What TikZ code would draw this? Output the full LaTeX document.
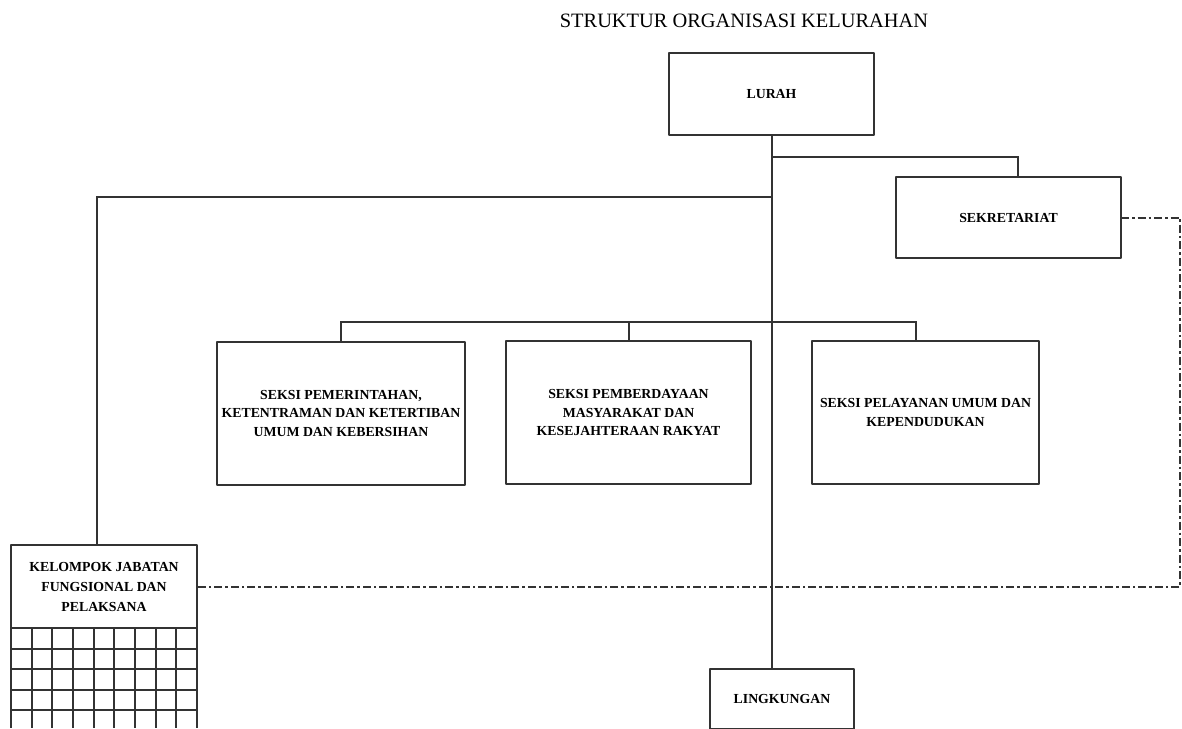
\documentclass[tikz,border=0pt]{standalone}
\usepackage{fontspec}
\setmainfont{Liberation Serif}
\usepackage{tikz}
\definecolor{linegray}{HTML}{333333}

\begin{document}
\begin{tikzpicture}[x=1pt, y=-1pt,
  every node/.style={outer sep=0pt, inner sep=2pt},
  unit/.style={draw=linegray, line width=2pt, line join=round, align=center,
    text=black, font=\bfseries\fontsize{13.8}{18.5}\selectfont},
  link/.style={draw=linegray, line width=2pt},
  dashlink/.style={draw=linegray, line width=2pt, dash pattern=on 8pt off 3pt on 2.5pt off 3pt}]
\useasboundingbox (0,0) rectangle (1182,728);

\node[font=\fontsize{20.4}{24}\selectfont] (title) at (744,21) {STRUKTUR ORGANISASI KELURAHAN};

\node[unit, minimum width=205pt, minimum height=82pt] (lurah) at (771.5,94) {LURAH};
\node[unit, minimum width=225pt, minimum height=81pt] (sekretariat) at (1008.5,217.5) {SEKRETARIAT};

\node[unit, minimum width=248pt, minimum height=143pt] (seksiA) at (341,413)
  {SEKSI PEMERINTAHAN,\\KETENTRAMAN DAN KETERTIBAN\\UMUM DAN KEBERSIHAN};
\node[unit, minimum width=245pt, minimum height=143pt] (seksiB) at (628.5,412.5)
  {SEKSI PEMBERDAYAAN\\MASYARAKAT DAN\\KESEJAHTERAAN RAKYAT};
\node[unit, minimum width=227pt, minimum height=143pt] (seksiC) at (925.5,412.5)
  {SEKSI PELAYANAN UMUM DAN\\KEPENDUDUKAN};

\node[unit, minimum width=186pt, minimum height=83pt, font=\bfseries\fontsize{13.8}{20}\selectfont] (kelompok) at (104,586.5)
  {KELOMPOK JABATAN\\FUNGSIONAL DAN\\PELAKSANA};
\node[unit, minimum width=144pt, minimum height=60pt] (lingkungan) at (782,699) {LINGKUNGAN};

% grid under kelompok
\foreach \i in {0,...,9}
  \draw[link] ([xshift=\i*20.67pt]kelompok.south west) -- ++(0,100);
\foreach \j in {1,...,5}
  \draw[link] ([yshift=-\j*20.5pt]kelompok.south west) -- ([yshift=-\j*20.5pt]kelompok.south east);

% lines
\coordinate (sekTop) at ([xshift=9.5pt]sekretariat.north);
\coordinate (kelTop) at ([xshift=-7pt]kelompok.north);
\coordinate (cTop) at ([xshift=-9.5pt]seksiC.north);
\draw[link] (lurah.south) -- (lurah.south |- lingkungan.north);
\draw[link] (lurah.south |- 0,157) -| (sekTop);
\draw[link] (lurah.south |- 0,197) -| (kelTop);
\draw[link] (seksiA.north) |- (cTop |- 0,322) -- (cTop);
\draw[link] (seksiB.north) -- (seksiB.north |- 0,322);
\draw[dashlink] (sekretariat.east) -- ++(59,0) |- (kelompok.east);
\end{tikzpicture}
\end{document}
